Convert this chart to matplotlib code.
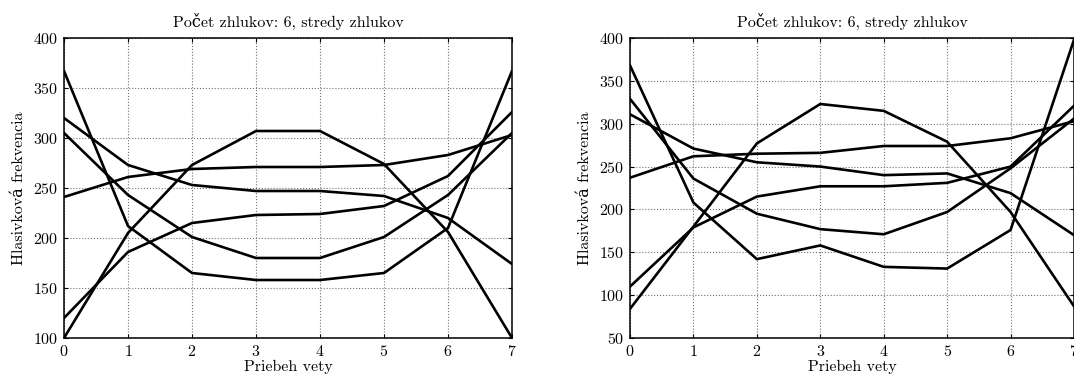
import matplotlib
matplotlib.use("Agg")
import matplotlib.pyplot as plt

plt.rcParams['font.family'] = ['cmr10', 'DejaVu Serif']
plt.rcParams['axes.formatter.use_mathtext'] = True
plt.rcParams['font.size'] = 11.5

x = [0, 1, 2, 3, 4, 5, 6, 7]

# left panel: cluster centres
left_a = [367, 212, 165, 158, 158, 165, 210, 367]
left_b = [100, 205, 273, 307, 307, 274, 206, 100]
left_c = [320, 273, 253, 247, 247, 242, 220, 174]
left_d = [305, 243, 201, 180, 180, 201, 243, 305]
left_e = [241, 261, 269, 271, 271, 273, 283, 303]
left_f = [120, 186, 215, 223, 224, 232, 262, 326]

# right panel: cluster centres
right_a = [368, 208, 142, 158, 133, 131, 176, 398]
right_b = [84, 180, 277, 323, 315, 279, 197, 87]
right_c = [329, 236, 195, 177, 171, 197, 248, 306]
right_d = [311, 271, 255, 250, 240, 242, 219, 170]
right_e = [237, 262, 265, 266, 274, 274, 283, 303]
right_f = [110, 179, 215, 227, 227, 231, 250, 321]

left_series = [left_a, left_b, left_c, left_d, left_e, left_f]
right_series = [right_a, right_b, right_c, right_d, right_e, right_f]

title = "Počet zhlukov: 6, stredy zhlukov"
xlab = "Priebeh vety"
ylab = "Hlasivková frekvencia"

fig = plt.figure(figsize=(10.74, 3.76), dpi=100)
ax1 = fig.add_axes([64 / 1074, 38 / 376, 448 / 1074, 300 / 376])
ax2 = fig.add_axes([630 / 1074, 38 / 376, 444 / 1074, 300 / 376])


def style(ax, series, ylim, yticks, xticks):
    for s in series:
        ax.plot(x, s, color='black', lw=1.9)
    ax.set_xlim(0, 7)
    ax.set_ylim(*ylim)
    ax.set_xticks(xticks)
    ax.set_yticks(yticks)
    ax.grid(True, linestyle=':', color='0.45', lw=0.8)
    ax.tick_params(direction='in', length=3, top=True, right=True, pad=4)
    for sp in ax.spines.values():
        sp.set_linewidth(1.1)
    ax.set_title(title, fontsize=11.5, pad=8)
    ax.set_xlabel(xlab, labelpad=1)
    ax.set_ylabel(ylab, labelpad=5)


style(ax1, left_series, (100, 400), range(100, 401, 50), range(0, 8))
style(ax2, right_series, (50, 400), range(50, 401, 50), range(0, 8))

fig.savefig("out.png", dpi=100)
